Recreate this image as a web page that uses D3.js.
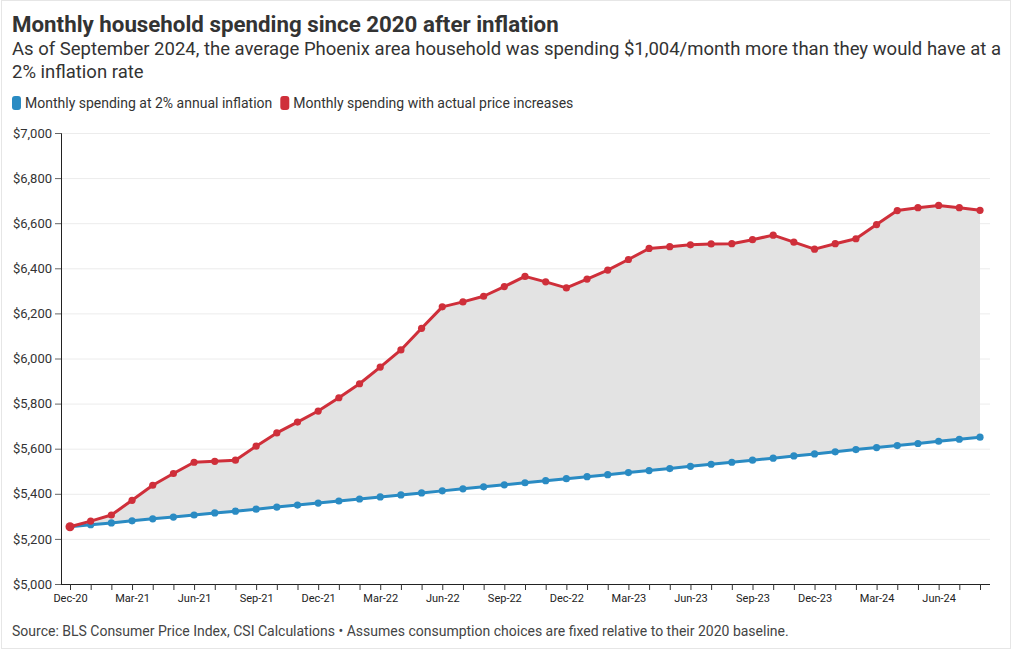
<!DOCTYPE html>
<html>
<head>
<meta charset="utf-8">
<script src="https://cdn.jsdelivr.net/npm/d3@7"></script>
<style>
  html, body { margin: 0; padding: 0; background: #fff; }
  svg { display: block; font-family: Roboto, "Noto Sans", sans-serif; }
</style>
</head>
<body>
<svg id="chart" width="1020" height="650"></svg>
<script>
const months = ["Dec-20","Jan-21","Feb-21","Mar-21","Apr-21","May-21","Jun-21","Jul-21","Aug-21","Sep-21","Oct-21","Nov-21",
  "Dec-21","Jan-22","Feb-22","Mar-22","Apr-22","May-22","Jun-22","Jul-22","Aug-22","Sep-22","Oct-22","Nov-22",
  "Dec-22","Jan-23","Feb-23","Mar-23","Apr-23","May-23","Jun-23","Jul-23","Aug-23","Sep-23","Oct-23","Nov-23",
  "Dec-23","Jan-24","Feb-24","Mar-24","Apr-24","May-24","Jun-24","Jul-24","Aug-24"];

const spendingAt2pct = [5254,5263,5271,5280,5289,5297,5306,5315,5323,5332,5341,5350,
  5359,5368,5377,5386,5395,5404,5413,5422,5431,5440,5449,5458,
  5467,5476,5485,5494,5503,5512,5522,5531,5540,5549,5558,5568,
  5577,5586,5596,5605,5614,5623,5633,5642,5651];

const spendingActual = [5254,5279,5306,5371,5438,5490,5540,5544,5549,5611,5670,5718,
  5767,5826,5888,5962,6038,6134,6229,6251,6276,6319,6364,6340,
  6313,6352,6392,6439,6488,6496,6504,6508,6509,6527,6547,6516,
  6485,6509,6531,6594,6656,6669,6679,6669,6657];

const yTicks = [5000,5200,5400,5600,5800,6000,6200,6400,6600,6800,7000];
const legendLabels = ["Monthly spending at 2% annual inflation","Monthly spending with actual price increases"];
const seriesColors = ["#2a8bc3","#cf2f3a"];

(function(){
const svg = d3.select("#chart");

// frame
svg.append("rect").attr("x",1.5).attr("y",0.5).attr("width",1009).attr("height",648)
  .attr("fill","none").attr("stroke","#e6e6e6");

// title
svg.append("text").attr("x",12).attr("y",32).attr("font-size",22.3).attr("font-weight",700)
  .attr("fill","#333")
  .text("Monthly household spending since 2020 after inflation");
svg.append("text").attr("x",12).attr("y",55).attr("font-size",18.5).attr("fill","#333")
  .text("As of September 2024, the average Phoenix area household was spending $1,004/month more than they would have at a");
svg.append("text").attr("x",12).attr("y",78).attr("font-size",18.5).attr("fill","#333")
  .text("2% inflation rate");

// legend
let lx = 12;
legendLabels.forEach((lab,i)=>{
  const g = svg.append("g").attr("transform",`translate(${lx},96)`);
  g.append("rect").attr("x",0).attr("y",0).attr("width",9).attr("height",14).attr("rx",3).attr("fill",seriesColors[i]);
  const t = g.append("text").attr("x",13).attr("y",12).attr("font-size",14).attr("fill","#333").text(lab);
  lx += 13 + t.node().getComputedTextLength() + 8;
});

// scales
const pLeft = 61, pRight = 990, pTop = 133, pBottom = 584;
const x = d3.scalePoint().domain(months).range([70, 980]);
const y = d3.scaleLinear().domain([5000,7000]).range([pBottom, pTop]);

// gridlines
svg.append("g").selectAll("line").data(yTicks.slice(1)).join("line")
  .attr("x1",pLeft).attr("x2",pRight).attr("y1",d=>y(d)+0.5).attr("y2",d=>y(d)+0.5)
  .attr("stroke","#ececec");

// area between
const area = d3.area()
  .x((d,i)=>x(months[i]))
  .y0((d,i)=>y(spendingAt2pct[i]))
  .y1(d=>y(d));
svg.append("path").datum(spendingActual).attr("d",area).attr("fill","#e3e3e3");

// y axis
const yAxis = d3.axisLeft(y).tickValues(yTicks).tickFormat(d=>"$"+d3.format(",")(d)).tickSize(6).tickPadding(3);
const yg = svg.append("g").attr("transform",`translate(${pLeft},0)`).call(yAxis);
yg.select(".domain").attr("stroke","#222");
yg.selectAll(".tick line").attr("stroke","#666");
yg.selectAll(".tick text").attr("font-size",13).attr("fill","#333").attr("font-family","Roboto, sans-serif");

// x axis
const xAxis = d3.axisBottom(x).tickSize(6).tickPadding(4)
  .tickFormat((d,i)=> i%3===0 ? d : "");
const xg = svg.append("g").attr("transform",`translate(0,${pBottom})`).call(xAxis);
xg.select(".domain").attr("d",`M${pLeft},0.5H${pRight}`).attr("stroke","#222");
xg.selectAll(".tick line").attr("stroke","#333");
xg.selectAll(".tick text").attr("font-size",11).attr("fill","#222").attr("font-family","Roboto, sans-serif");

// lines
const series = [spendingAt2pct, spendingActual];
series.forEach((s,k)=>{
  const line = d3.line().x((d,i)=>x(months[i])).y(d=>y(d));
  svg.append("path").datum(s).attr("d",line).attr("fill","none")
    .attr("stroke",seriesColors[k]).attr("stroke-width",3).attr("stroke-linejoin","round");
  svg.append("g").selectAll("circle").data(s).join("circle")
    .attr("cx",(d,i)=>x(months[i])).attr("cy",d=>y(d)).attr("r",3.6)
    .attr("fill",seriesColors[k]);
});
svg.append("circle").attr("cx",x(months[0])).attr("cy",y(spendingActual[0])).attr("r",4.5).attr("fill",seriesColors[1]);

// footer
svg.append("text").attr("x",12).attr("y",636).attr("font-size",14).attr("fill","#444")
  .text("Source: BLS Consumer Price Index, CSI Calculations \u2022 Assumes consumption choices are fixed relative to their 2020 baseline.");
})();
</script>
</body>
</html>
